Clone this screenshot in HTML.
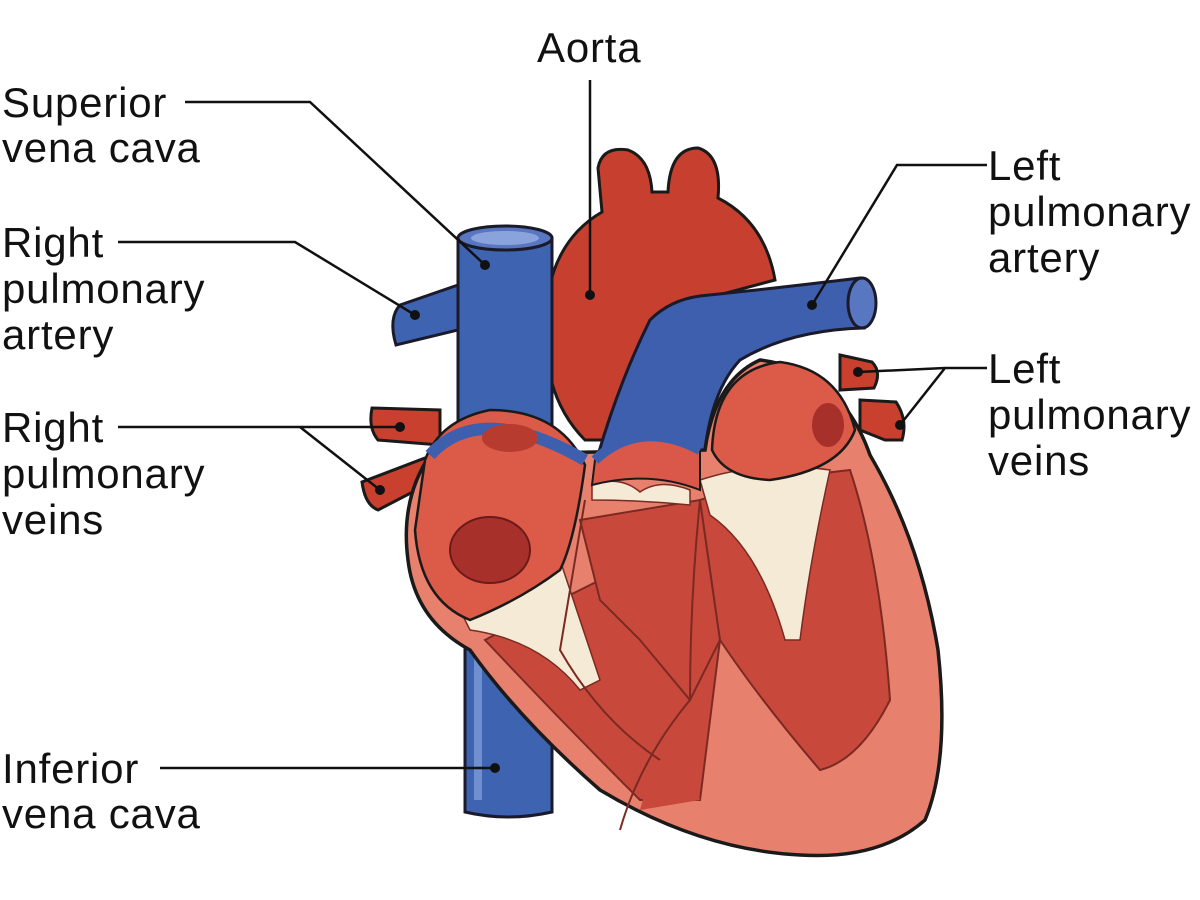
<!DOCTYPE html>
<html><head><meta charset="utf-8"><style>
html,body{margin:0;padding:0;background:#fff;}
svg{display:block}
text{font-family:"Liberation Sans",sans-serif;font-size:42px;fill:#111;letter-spacing:0.8px}
</style></head><body>
<svg width="1200" height="900" viewBox="0 0 1200 900" xmlns="http://www.w3.org/2000/svg">
<!-- IVC -->
<path d="M465,630 L465,812 Q508,822 552,812 L552,630 Z" fill="#3e63b0" stroke="#1a1a2a" stroke-width="3"/>
<path d="M478,650 L478,800" stroke="#6f8fd0" stroke-width="8" fill="none"/>
<!-- right pulmonary veins -->
<path d="M372,408 Q368,428 378,440 L440,445 L440,410 Z" fill="#c9402f" stroke="#1a1a1a" stroke-width="3"/>
<path d="M362,482 Q365,505 378,510 L432,482 L425,458 Z" fill="#c9402f" stroke="#1a1a1a" stroke-width="3"/>
<!-- left pulmonary veins -->
<path d="M840,355 L872,362 Q882,372 874,388 L840,390 Z" fill="#c9402f" stroke="#1a1a1a" stroke-width="3"/>
<path d="M860,400 L896,402 Q908,420 902,440 L885,440 L860,430 Z" fill="#c9402f" stroke="#1a1a1a" stroke-width="3"/>
<!-- aorta -->
<path d="M545,330 Q545,245 602,212 L598,168 Q602,146 628,150 Q650,158 652,192 L668,192 Q670,148 698,148 Q722,155 718,198 Q765,222 775,280 L700,300 L620,440 L585,440 Q545,400 545,330 Z" fill="#c7402f" stroke="#1a1a1a" stroke-width="3"/>
<!-- SVC -->
<path d="M458,238 L458,470 L552,470 L552,238 Z" fill="#3e63b0" stroke="#1a1a2a" stroke-width="3"/>
<ellipse cx="505" cy="238" rx="47" ry="12" fill="#5877c0" stroke="#1a1a2a" stroke-width="3"/>
<ellipse cx="505" cy="238" rx="34" ry="7" fill="#8aa3dc"/>
<path d="M458,285 L400,305 Q388,318 396,345 L458,330 Z" fill="#3e63b0" stroke="#1a1a2a" stroke-width="3"/>
<!-- pulmonary trunk -->
<path d="M598,455 Q620,380 650,320 Q670,300 700,296 Q760,290 860,278 L864,328 Q790,330 740,360 Q712,390 705,450 Z" fill="#3e5fae" stroke="#1a1a2a" stroke-width="3"/>
<ellipse cx="862" cy="303" rx="14" ry="25" fill="#5877c0" stroke="#1a1a2a" stroke-width="3"/>
<!-- heart body -->
<path d="M430,455 Q400,500 408,560 Q415,620 470,650 Q520,720 600,790 Q700,850 800,855 Q880,860 925,820 Q950,760 938,650 Q920,540 870,455 Q840,370 760,360 Q715,380 705,450 L430,455 Z" fill="#e8806e" stroke="#1a1a1a" stroke-width="3.5"/>
<!-- inner ventricle areas -->
<path d="M485,640 Q560,720 640,800 L700,800 L720,640 L640,560 L560,600 Z" fill="#c8493c" stroke="#7a2a22" stroke-width="2"/>
<path d="M580,520 L700,500 L720,640 L690,700 L640,640 L600,600 Z" fill="#c8493c" stroke="#7a2a22" stroke-width="2"/>
<path d="M700,500 Q760,480 850,470 Q880,560 890,700 Q860,760 820,770 Q760,700 720,640 Z" fill="#c8493c" stroke="#7a2a22" stroke-width="2"/>
<path d="M670,700 L700,800 L640,810 Z" fill="#c8493c"/>
<!-- white valves -->
<path d="M460,610 Q520,590 560,560 Q580,620 600,680 L580,690 Q540,640 470,630 Z" fill="#f5ead6" stroke="#7a2a22" stroke-width="1.5"/>
<path d="M700,480 Q760,460 830,470 Q810,560 800,640 L785,640 Q760,550 710,515 Z" fill="#f5ead6" stroke="#7a2a22" stroke-width="1.5"/>
<path d="M592,485 Q620,475 640,492 Q660,478 690,490 L690,505 Q640,500 592,500 Z" fill="#f5ead6" stroke="#7a2a22" stroke-width="1.5"/>
<!-- right atrium -->
<path d="M425,460 Q440,420 490,410 Q560,410 585,465 Q575,540 560,570 Q520,600 470,620 Q420,600 415,530 Z" fill="#db5a48" stroke="#1a1a1a" stroke-width="2.5"/>
<path d="M430,455 Q480,400 585,460" stroke="#3e5fae" stroke-width="12" fill="none"/>
<ellipse cx="490" cy="550" rx="40" ry="33" fill="#a8302a" stroke="#6a1a18" stroke-width="2"/>
<ellipse cx="510" cy="438" rx="28" ry="14" fill="#b83b30"/>
<!-- pulmonary valve area -->
<path d="M595,460 Q640,420 700,450 L700,490 Q650,470 592,485 Z" fill="#d9584a" stroke="#1a1a1a" stroke-width="2"/>
<path d="M595,460 Q640,418 700,450" stroke="#3e5fae" stroke-width="10" fill="none"/>
<!-- left atrium -->
<path d="M712,450 Q715,370 780,362 Q840,370 855,430 Q840,470 770,480 Q725,478 712,450 Z" fill="#db5a48" stroke="#1a1a1a" stroke-width="2.5"/>
<ellipse cx="828" cy="425" rx="16" ry="22" fill="#a8302a"/>
<!-- septum lines -->
<path d="M585,500 L560,650 Q600,720 660,760" stroke="#7a2a22" stroke-width="2" fill="none"/>
<path d="M700,500 Q690,600 690,700 Q640,760 620,830" stroke="#7a2a22" stroke-width="2" fill="none"/>
<!-- leader lines -->
<g stroke="#111" stroke-width="2.5" fill="none">
<polyline points="185,102 310,102 485,265"/>
<polyline points="118,242 295,242 415,315"/>
<polyline points="118,427 300,427 400,427"/>
<line x1="300" y1="427" x2="380" y2="490"/>
<polyline points="160,768 495,768"/>
<line x1="590" y1="80" x2="590" y2="295"/>
<polyline points="987,165 897,165 812,305"/>
<polyline points="987,368 945,368 858,372"/>
<line x1="945" y1="368" x2="900" y2="425"/>
</g>
<g fill="#111">
<circle cx="485" cy="265" r="5"/><circle cx="415" cy="315" r="5"/><circle cx="400" cy="427" r="5"/><circle cx="380" cy="490" r="5"/>
<circle cx="495" cy="768" r="5"/><circle cx="590" cy="295" r="5"/><circle cx="812" cy="305" r="5"/><circle cx="858" cy="372" r="5"/><circle cx="900" cy="425" r="5"/>
</g>
<!-- labels -->
<text x="2" y="117">Superior</text>
<text x="2" y="162">vena cava</text>
<text x="2" y="257">Right</text>
<text x="2" y="303">pulmonary</text>
<text x="2" y="349">artery</text>
<text x="2" y="442">Right</text>
<text x="2" y="488">pulmonary</text>
<text x="2" y="534">veins</text>
<text x="2" y="783">Inferior</text>
<text x="2" y="828">vena cava</text>
<text x="537" y="62">Aorta</text>
<text x="988" y="180">Left</text>
<text x="988" y="226">pulmonary</text>
<text x="988" y="272">artery</text>
<text x="988" y="383">Left</text>
<text x="988" y="429">pulmonary</text>
<text x="988" y="475">veins</text>
</svg>
</body></html>
